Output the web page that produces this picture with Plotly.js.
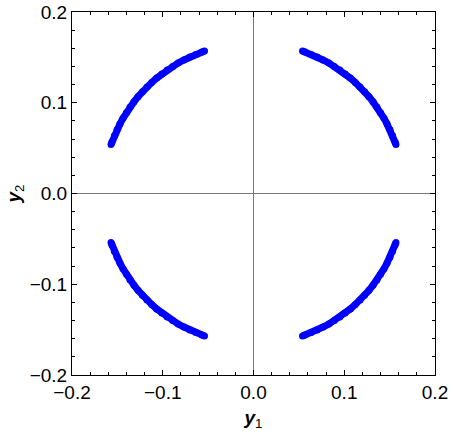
<!DOCTYPE html>
<html><head><meta charset="utf-8">
<script src="https://cdn.plot.ly/plotly-3.0.1.min.js"></script>
<style>body{margin:0;background:#fff}#plot{width:450px;height:431px}</style>
</head><body><div id="plot"></div>
<script>
// Upper-right arc points (y1, y2)
const arcX = [0.054, 0.0568, 0.0635, 0.0702, 0.0766, 0.083, 0.0891, 0.0952, 0.1010, 0.1067, 0.1121, 0.1174, 0.1224, 0.1272, 0.1317, 0.1360, 0.1400, 0.1438, 0.1472, 0.1504, 0.1533, 0.1560, 0.1570];
const arcY = [0.1570, 0.1560, 0.1533, 0.1504, 0.1472, 0.1438, 0.1400, 0.1360, 0.1317, 0.1272, 0.1224, 0.1174, 0.1121, 0.1067, 0.1010, 0.0952, 0.0891, 0.0830, 0.0766, 0.0702, 0.0635, 0.0568, 0.0540];
// quadrant sign pairs
const quadSignX = [1, -1, -1, 1];
const quadSignY = [1, 1, -1, -1];
const tickVals = [-0.2, -0.1, 0.0, 0.1, 0.2];

const traces = quadSignX.map((sx, i) => ({
  x: arcX.map(v => v * sx),
  y: arcY.map(v => v * quadSignY[i]),
  mode: 'lines+markers',
  type: 'scatter',
  line: {color: '#0000ff', width: 7},
  marker: {color: '#0000ff', size: 7, symbol: 'circle'},
  hoverinfo: 'skip',
  showlegend: false
}));

const FONT = 'Liberation Sans, Arial, sans-serif';
const axisCommon = {
  range: [-0.2, 0.2],
  tickvals: tickVals,
  tickformat: '.1f',
  ticks: 'inside',
  ticklen: 5,
  tickwidth: 1,
  tickcolor: '#000',
  minor: {dtick: 0.02, ticks: 'inside', ticklen: 3, tickcolor: '#000', tickwidth: 1, showgrid: false},
  showline: true,
  linecolor: '#000',
  linewidth: 1,
  mirror: 'ticks',
  showgrid: false,
  zeroline: true,
  zerolinecolor: '#777',
  zerolinewidth: 1,
  tickfont: {family: FONT, size: 19, color: '#000'}
};

const layout = {
  width: 450, height: 431,
  margin: {l: 72, r: 15, t: 12, b: 56},
  paper_bgcolor: '#fff', plot_bgcolor: '#fff',
  xaxis: Object.assign({}, axisCommon, {
    title: {text: '<b><i>y</i></b><sub>1</sub>', font: {family: FONT, size: 19, color: '#000'}, standoff: 8}
  }),
  yaxis: Object.assign({}, axisCommon, {
    title: {text: '<b><i>y</i></b><sub>2</sub>', font: {family: FONT, size: 19, color: '#000'}, standoff: 4}
  })
};

Plotly.newPlot('plot', traces, layout, {staticPlot: true, displayModeBar: false});
</script>
</body></html>
